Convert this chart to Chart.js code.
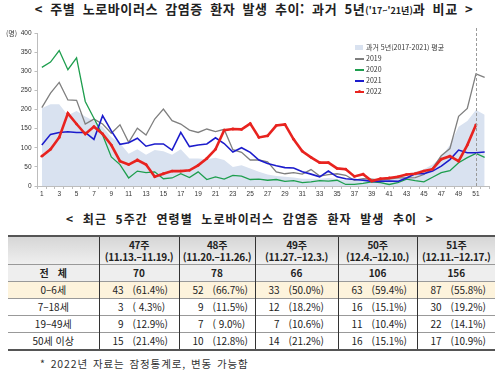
<!DOCTYPE html>
<html lang="ko">
<head>
<meta charset="utf-8">
<script src="https://cdn.jsdelivr.net/npm/chart.js@4"></script>
<style>
  body { margin: 0; background: #fff; font-family: "Noto Sans CJK KR", "Noto Sans", sans-serif; color: #222; }
  #page { position: relative; width: 500px; height: 373px; overflow: hidden; }
  .title { position: absolute; left: 0; width: 500px; text-align: center; font-weight: bold; white-space: nowrap; }
  #t1 { top: 0; font-size: 13px; line-height: 18px; padding-left: 8px; box-sizing: border-box; letter-spacing: 0.6px; word-spacing: 3px; }
  #t1 small { font-size: 9px; font-weight: bold; letter-spacing: 0; }
  #t2 { top: 210px; font-size: 12px; line-height: 18px; letter-spacing: 1.1px; word-spacing: 4px; }
  #chartBox { position: absolute; left: 0; top: 25px; width: 500px; height: 175px; }
  #unit { position: absolute; left: 6px; top: 28px; font-size: 7px; color: #333; }
  #legend { position: absolute; left: 355px; top: 42px; font-size: 7px; color: #333; line-height: 11px; }
  #legend div { position: relative; padding-left: 11px; white-space: nowrap; }
  #legend i { position: absolute; left: 0; top: 5px; width: 9px; height: 1.5px; }
  #legend i.box { top: 3px; height: 5px; width: 8px; }
  #legend i b { position: absolute; left: 3px; top: -1px; width: 3px; height: 3px; border-radius: 50%; background: #e8231f; }
  table { position: absolute; left: 8px; top: 235px; width: 487px; border-collapse: collapse; font-size: 10px; table-layout: fixed; }
  td, th { padding: 0; text-align: center; border-left: 1px solid #333; border-top: 1px solid #999; white-space: nowrap; }
  tr > :first-child { border-left: none; }
  thead th { height: 27px; line-height: 12px; background: linear-gradient(#d6d6d6, #efefef); border-top: 2px solid #555; font-weight: bold; letter-spacing: -0.3px; }
  tbody td { height: 16px; line-height: 16px; }
  tr.all td { background: #eeeeee; font-weight: bold; }
  tr.kid td { background: #fdf3dc; }
  tbody tr:last-child td { border-bottom: 2px solid #555; }
  td .n { display: inline-block; width: 24px; text-align: right; margin-right: 9px; }
  td .p { display: inline-block; width: 38px; text-align: left; }
  td.num { text-align: left; }
  #note { position: absolute; left: 40px; top: 356px; font-size: 10.5px; color: #333; white-space: nowrap; letter-spacing: 0.9px; word-spacing: 1px; }
</style>
</head>
<body>
<div id="page">
  <div id="t1" class="title">&lt; 주별 노로바이러스 감염증 환자 발생 추이: 과거 5년<small>('17~'21년)</small>과 비교 &gt;</div>
  <div id="chartBox"><canvas id="chart" width="500" height="175"></canvas></div>
  <div id="unit">(명)</div>
  <div id="legend"></div>
  <div id="t2" class="title">&lt; 최근 5주간 연령별 노로바이러스 감염증 환자 발생 추이 &gt;</div>
  <table id="tbl">
    <colgroup><col style="width:91px"><col style="width:80px"><col style="width:76px"><col style="width:83px"><col style="width:79px"><col style="width:78px"></colgroup>
    <thead><tr id="headRow"><th></th></tr></thead>
    <tbody id="tbody"></tbody>
  </table>
  <div id="note">* 2022년 자료는 잠정통계로, 변동 가능함</div>
</div>
<script>
// weeks 1..52
const weeks = Array.from({ length: 52 }, (_, i) => String(i + 1));

const avg5y = [203, 214, 214, 185, 196, 182, 170, 155, 128, 112, 84, 96, 82, 94, 91, 82, 96, 72, 72, 70, 74, 68, 50, 54, 46, 37,
  30, 26, 24, 22, 19, 19, 19, 21, 18, 15, 18, 18, 18, 18, 18, 21, 28, 37, 44, 56, 76, 107, 155, 170, 199, 186];
const y2019 = [205, 243, 271, 225, 224, 162, 175, 162, 138, 160, 114, 151, 133, 175, 201, 171, 162, 146, 140, 149, 142, 148, 95, 88, 68, 68,
  63, 37, 32, 35, 31, 43, 26, 30, 32, 28, 15, 19, 18, 15, 18, 21, 21, 22, 30, 46, 79, 98, 182, 203, 293, 284];
const y2020 = [310, 324, 354, 304, 335, 221, 177, 133, 76, 56, 21, 39, 35, 37, 19, 21, 32, 22, 37, 17, 24, 18, 28, 26, 17, 18,
  15, 17, 12, 14, 9, 11, 14, 13, 15, 4, 4, 7, 11, 9, 4, 9, 18, 14, 11, 23, 35, 40, 61, 74, 85, 75];
const y2021 = [107, 135, 140, 142, 140, 140, 122, 184, 144, 109, 113, 125, 104, 110, 110, 94, 140, 103, 107, 110, 126, 111, 89, 100, 88, 68,
  59, 53, 48, 47, 37, 31, 24, 39, 24, 19, 17, 15, 12, 12, 13, 12, 21, 32, 32, 39, 52, 69, 94, 87, 87, 89];
const y2022 = [78, 96, 127, 190, 162, 136, 155, 136, 107, 65, 56, 68, 56, 24, 32, 39, 39, 41, 54, 72, 96, 146, 149, 148, 163, 127,
  131, 158, 161, 122, 91, 75, 61, 61, 46, 44, 25, 31, 13, 19, 21, 24, 30, 32, 39, 44, 70, 78, 65, 107, 160, null];

const yTicks = [0, 50, 100, 150, 200, 250, 300, 350, 400];
const markWeek = '51';

// table data
const tblWeeks = ['47주', '48주', '49주', '50주', '51주'];
const tblDates = ['(11.13.–11.19.)', '(11.20.–11.26.)', '(11.27.–12.3.)', '(12.4.–12.10.)', '(12.11.–12.17.)'];
const totals = [70, 78, 66, 106, 156];
const ageGroups = ['0–6세', '7–18세', '19–49세', '50세 이상'];
const ageCounts = [
  [43, 52, 33, 63, 87],
  [3, 9, 12, 16, 30],
  [9, 7, 7, 11, 22],
  [15, 10, 14, 16, 17]
];
const agePct = [
  ['(61.4%)', '(66.7%)', '(50.0%)', '(59.4%)', '(55.8%)'],
  ['( 4.3%)', '(11.5%)', '(18.2%)', '(15.1%)', '(19.2%)'],
  ['(12.9%)', '( 9.0%)', '(10.6%)', '(10.4%)', '(14.1%)'],
  ['(21.4%)', '(12.8%)', '(21.2%)', '(15.1%)', '(10.9%)']
];

const C = {
  avg: '#d9e2f0',
  g19: '#7f7f7f',
  g20: '#1e9e4e',
  g21: '#1c1ccc',
  g22: '#e8231f'
};

const series = [
  { label: '2022', data: y2022, color: C.g22, width: 2.6, order: 0, point: 1.4 },
  { label: '2021', data: y2021, color: C.g21, width: 1.6, order: 1 },
  { label: '2020', data: y2020, color: C.g20, width: 1.3, order: 2 },
  { label: '2019', data: y2019, color: C.g19, width: 1.3, order: 3 }
];

// vertical dashed marker at week 51
const markLine = {
  id: 'markLine',
  afterDatasetsDraw(chart) {
    const { ctx, scales: { x, y } } = chart;
    const px = x.getPixelForValue(weeks.indexOf(markWeek));
    ctx.save();
    ctx.strokeStyle = '#9a9a9a';
    ctx.lineWidth = 1;
    ctx.setLineDash([3, 2]);
    ctx.beginPath();
    ctx.moveTo(Math.round(px) + 0.5, y.top - 5);
    ctx.lineTo(Math.round(px) + 0.5, y.bottom);
    ctx.stroke();
    ctx.restore();
  }
};

new Chart(document.getElementById('chart'), {
  type: 'line',
  data: {
    labels: weeks,
    datasets: [
      ...series.map(s => ({
        label: s.label,
        data: s.data,
        borderColor: s.color,
        backgroundColor: s.color,
        borderWidth: s.width,
        pointRadius: s.point || 0,
        pointBorderWidth: 0,
        tension: 0,
        fill: false,
        order: s.order
      })),
      {
        label: '과거 5년(2017-2021) 평균',
        data: avg5y,
        borderWidth: 0,
        borderColor: C.avg,
        backgroundColor: C.avg,
        pointRadius: 0,
        fill: 'origin',
        tension: 0,
        order: 4
      }
    ]
  },
  options: {
    responsive: false,
    animation: false,
    layout: { padding: { top: 8, right: 11, left: 0, bottom: 0 } },
    plugins: { legend: { display: false }, tooltip: { enabled: false } },
    scales: {
      x: {
        offset: true,
        grid: { drawOnChartArea: false, offset: true, tickLength: 3, color: '#bdbdbd' },
        border: { color: '#bdbdbd' },
        ticks: {
          autoSkip: false,
          maxRotation: 0,
          padding: 1,
          color: '#333',
          font: { family: 'Liberation Sans, Arial', size: 6.5 },
          callback: (v, i) => (i % 2 === 0 ? weeks[i] : '')
        },
        afterFit: s => { s.height = 14; }
      },
      y: {
        min: 0,
        max: 400,
        afterBuildTicks: s => { s.ticks = yTicks.map(v => ({ value: v })); },
        grid: { drawOnChartArea: false, tickLength: 3, color: '#bdbdbd' },
        border: { color: '#bdbdbd' },
        ticks: {
          padding: 3,
          color: '#333',
          font: { family: 'Liberation Sans, Arial', size: 6.5 }
        },
        afterFit: s => { s.width = 37.5; }
      }
    }
  },
  plugins: [markLine]
});

// legend
const legendItems = [
  { text: '과거 5년(2017-2021) 평균', color: C.avg, box: true },
  { text: '2019', color: C.g19 },
  { text: '2020', color: C.g20 },
  { text: '2021', color: C.g21 },
  { text: '2022', color: C.g22, mark: true }
];
document.getElementById('legend').innerHTML = legendItems.map(it =>
  `<div><i class="${it.box ? 'box' : ''}" style="background:${it.color};${it.mark ? 'height:2.2px' : ''}">${it.mark ? '<b></b>' : ''}</i>${it.text}</div>`
).join('');

// table
const headRow = document.getElementById('headRow');
tblWeeks.forEach((w, i) => {
  const th = document.createElement('th');
  th.innerHTML = `${w}<br>${tblDates[i]}`;
  headRow.appendChild(th);
});
const tbody = document.getElementById('tbody');
let html = `<tr class="all"><td style="letter-spacing:9px;padding-left:9px">전체</td>${totals.map(t => `<td>${t}</td>`).join('')}</tr>`;
ageGroups.forEach((g, r) => {
  html += `<tr class="${r === 0 ? 'kid' : ''}"><td>${g}</td>` +
    ageCounts[r].map((n, c) => `<td class="num"><span class="n">${n}</span><span class="p" style="white-space:pre">${agePct[r][c]}</span></td>`).join('') +
    '</tr>';
});
tbody.innerHTML = html;
</script>
</body>
</html>
